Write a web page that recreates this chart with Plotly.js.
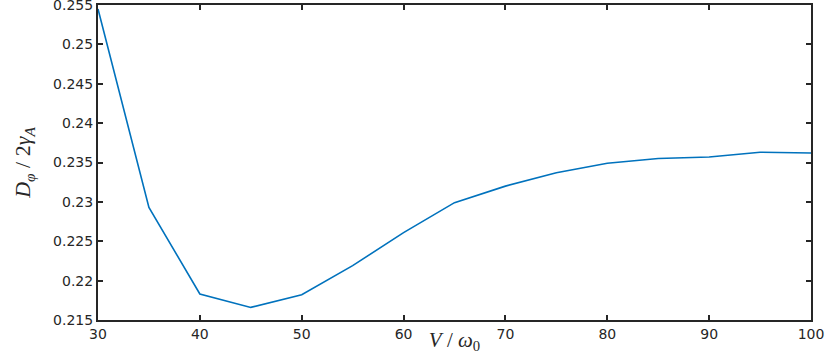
<!DOCTYPE html>
<html>
<head>
<meta charset="utf-8">
<script src="https://cdn.plot.ly/plotly-3.0.1.min.js"></script>
<style>
  html, body { margin: 0; padding: 0; background: #fff; }
  #plot { width: 830px; height: 354px; }
</style>
</head>
<body>
<div id="plot"></div>
<script>
// V / omega_0
var vRatio = [30, 35, 40, 45, 50, 55, 60, 65, 70, 75, 80, 85, 90, 95, 100];
// D_phi / 2 gamma_A
var dephasing = [0.2545, 0.2293, 0.2183, 0.2166, 0.2182, 0.2219, 0.2261, 0.2299,
                 0.2320, 0.2337, 0.2349, 0.2355, 0.2357, 0.2363, 0.2362];
var xTicks = [30, 40, 50, 60, 70, 80, 90, 100];
var yTicks = [0.215, 0.22, 0.225, 0.23, 0.235, 0.24, 0.245, 0.25, 0.255];
var yTickText = ['0.215', '0.22', '0.225', '0.23', '0.235', '0.24', '0.245', '0.25', '0.255'];

var axisColor = '#262626';
var tickFont = {family: 'DejaVu Sans', size: 14, color: axisColor};

var data = [{
  x: vRatio,
  y: dephasing,
  type: 'scatter',
  mode: 'lines',
  line: {color: '#0072BD', width: 1.6},
  showlegend: false,
  cliponaxis: false
}];

var layout = {
  width: 830,
  height: 354,
  margin: {l: 98, r: 19, t: 5, b: 34},
  paper_bgcolor: '#fff',
  plot_bgcolor: '#fff',
  xaxis: {
    range: [30, 100],
    tickmode: 'array',
    tickvals: xTicks,
    showgrid: false,
    zeroline: false,
    showline: true,
    linecolor: axisColor,
    linewidth: 2,
    mirror: 'ticks',
    ticks: 'inside',
    ticklen: 5,
    tickwidth: 2,
    tickcolor: axisColor,
    tickfont: tickFont,
    ticklabeloverflow: 'allow',
    title: {
      text: '<i>V</i> / <i>ω</i><sub>0</sub>',
      font: {family: 'Liberation Serif', size: 21, color: axisColor},
      standoff: 1
    }
  },
  yaxis: {
    range: [0.215, 0.255],
    tickmode: 'array',
    tickvals: yTicks,
    ticktext: yTickText,
    showgrid: false,
    zeroline: false,
    showline: true,
    linecolor: axisColor,
    linewidth: 2,
    mirror: 'ticks',
    ticks: 'inside',
    ticklen: 5,
    tickwidth: 2,
    tickcolor: axisColor,
    tickfont: tickFont,
    ticklabeloverflow: 'allow',
    title: {
      text: '<i>D</i><sub><i>φ</i></sub> / 2<i>γ</i><sub><i>A</i></sub>',
      font: {family: 'Liberation Serif', size: 22, color: axisColor},
      standoff: 16
    }
  }
};

Plotly.newPlot('plot', data, layout, {displayModeBar: false, staticPlot: true});
</script>
</body>
</html>
